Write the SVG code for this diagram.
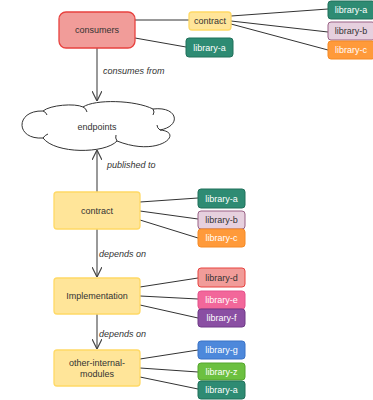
<svg xmlns="http://www.w3.org/2000/svg" width="373" height="400" viewBox="0 0 373 400">
<style>
text{font-family:"Liberation Sans",Arial,sans-serif;font-size:9px;fill:#333;text-anchor:middle}
.w{fill:#fff}
.lbl{font-style:italic;text-anchor:start}
.con{stroke:#333;stroke-width:1;fill:none}
.arr{stroke:#555;stroke-width:1.2;fill:none}
.y{fill:#FFE599;stroke:#FFD966;stroke-width:1.3}
.teal{fill:#2E8B73;stroke:#21705B}
.pb{fill:#E6D0DE;stroke:#996185}
.or{fill:#FF9A3A;stroke:#F58A24}
.rd{fill:#F19C99;stroke:#E8423F}
.pk{fill:#F2679A;stroke:#E4528A}
.pu{fill:#8A4FA3;stroke:#6E3A86}
.bl{fill:#4D88DB;stroke:#3B73C6}
.gr{fill:#6CC040;stroke:#55A52C}
</style>
<defs>
<marker id="open" viewBox="0 0 10 10" refX="10" refY="5" markerWidth="10" markerHeight="10" markerUnits="userSpaceOnUse" orient="auto">
<path d="M0,0 L10,5 L0,10" fill="none" stroke="#444" stroke-width="1.2"/>
</marker>
</defs>
<g id="connectors">
<line class="con" x1="135" y1="20" x2="189" y2="20"/>
<line class="con" x1="135" y1="38" x2="186" y2="47"/>
<line class="con" x1="231" y1="16" x2="328" y2="9"/>
<line class="con" x1="231" y1="21" x2="328" y2="32"/>
<line class="con" x1="231" y1="24" x2="328" y2="50"/>
<line class="con" x1="140" y1="202" x2="198" y2="198"/>
<line class="con" x1="140" y1="211" x2="198" y2="219"/>
<line class="con" x1="140" y1="220" x2="198" y2="238"/>
<line class="con" x1="140" y1="287" x2="198" y2="278"/>
<line class="con" x1="140" y1="296" x2="198" y2="299"/>
<line class="con" x1="140" y1="305" x2="198" y2="318"/>
<line class="con" x1="140" y1="359" x2="198" y2="350"/>
<line class="con" x1="140" y1="368" x2="198" y2="372"/>
<line class="con" x1="140" y1="377" x2="198" y2="389"/>
<line class="arr" x1="97" y1="48" x2="97" y2="101" marker-end="url(#open)"/>
<line class="arr" x1="97" y1="192" x2="97" y2="150" marker-end="url(#open)"/>
<line class="arr" x1="97" y1="229" x2="97" y2="277" marker-end="url(#open)"/>
<line class="arr" x1="97" y1="314" x2="97" y2="349" marker-end="url(#open)"/>
<text class="lbl" x="103" y="74">consumes from</text>
<text class="lbl" x="107" y="168">published to</text>
<text class="lbl" x="99" y="257">depends on</text>
<text class="lbl" x="99" y="337">depends on</text>
</g>
<g id="consumers">
<rect x="59" y="12" width="76" height="36" rx="7" fill="#F19C99" stroke="#E8423F" stroke-width="1.3"/>
<text x="97" y="33">consumers</text>
</g>
<g id="contract-small">
<rect class="y" x="189" y="12" width="42" height="18" rx="3"/>
<text x="210" y="24">contract</text>
</g>
<g id="consumers-library-a">
<rect class="teal" x="186" y="38" width="47" height="19" rx="3"/>
<text class="w" x="209.5" y="50.5">library-a</text>
</g>
<g id="top-library-a">
<rect class="teal" x="328" y="1" width="47" height="18" rx="3"/>
<text class="w" x="351" y="13">library-a</text>
</g>
<g id="top-library-b">
<rect class="pb" x="328" y="22" width="47" height="18" rx="3"/>
<text x="351" y="34">library-b</text>
</g>
<g id="top-library-c">
<rect class="or" x="328" y="41" width="47" height="18" rx="3"/>
<text class="w" x="351" y="53">library-c</text>
</g>
<g id="endpoints">
<path d="M43,111 C50,105 75,103 83,107 C95,99 135,100 153,109 C178,106 182,126 160,130 C185,132 160,158 117,141 C105,154 55,154 43,138 C15,140 15,110 43,111 Z" fill="#fff" stroke="#333" stroke-width="1"/>
<path d="M83,107 q3,1 4,5 M153,109 q2,3 0,6 M160,130 q-3,-2 -3,-5 M117,141 q-2,-3 -1,-6 M43,138 q2,-3 5,-4 M43,111 q3,1 4,4" fill="none" stroke="#333" stroke-width="1"/>
<text x="97" y="130">endpoints</text>
</g>
<g id="contract">
<rect class="y" x="54" y="192" width="86" height="37" rx="3"/>
<text x="97" y="214">contract</text>
</g>
<g id="contract-library-a">
<rect class="teal" x="198" y="189" width="47" height="19" rx="3"/>
<text class="w" x="221.5" y="201.5">library-a</text>
</g>
<g id="contract-library-b">
<rect class="pb" x="198" y="211" width="47" height="18" rx="3"/>
<text x="221.5" y="223">library-b</text>
</g>
<g id="contract-library-c">
<rect class="or" x="198" y="229" width="47" height="18" rx="3"/>
<text class="w" x="221.5" y="241">library-c</text>
</g>
<g id="implementation">
<rect class="y" x="54" y="278" width="86" height="36" rx="3"/>
<text x="97" y="299">Implementation</text>
</g>
<g id="library-d">
<rect class="rd" x="198" y="268" width="47" height="19" rx="3"/>
<text x="221.5" y="280.5">library-d</text>
</g>
<g id="library-e">
<rect class="pk" x="198" y="291" width="47" height="18" rx="3"/>
<text class="w" x="221.5" y="303">library-e</text>
</g>
<g id="library-f">
<rect class="pu" x="198" y="309" width="47" height="18" rx="3"/>
<text class="w" x="221.5" y="321">library-f</text>
</g>
<g id="other-internal-modules">
<rect class="y" x="54" y="350" width="86" height="36" rx="3"/>
<text x="97" y="366">other-internal-</text>
<text x="97" y="377">modules</text>
</g>
<g id="library-g">
<rect class="bl" x="198" y="341" width="47" height="18" rx="3"/>
<text class="w" x="221.5" y="353">library-g</text>
</g>
<g id="library-z">
<rect class="gr" x="198" y="363" width="47" height="17" rx="3"/>
<text class="w" x="221.5" y="374.5">library-z</text>
</g>
<g id="other-library-a">
<rect class="teal" x="198" y="381" width="47" height="18" rx="3"/>
<text class="w" x="221.5" y="393">library-a</text>
</g>
</svg>
